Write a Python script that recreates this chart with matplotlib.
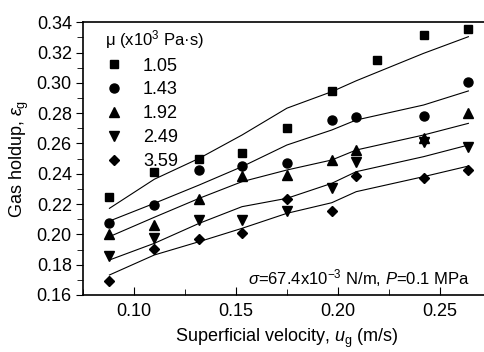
import matplotlib.pyplot as plt
from matplotlib.ticker import MultipleLocator

plt.rcParams['font.family'] = 'Liberation Sans'
plt.rcParams['mathtext.fontset'] = 'custom'
plt.rcParams['mathtext.rm'] = 'Liberation Sans'
plt.rcParams['mathtext.it'] = 'Liberation Sans:italic'

# measured points
x_sq = [0.088, 0.110, 0.132, 0.153, 0.175, 0.197, 0.219, 0.242, 0.264]
y_sq = [0.2245, 0.2414, 0.2496, 0.2540, 0.2705, 0.2945, 0.3154, 0.3314, 0.3353]
x_ci = [0.088, 0.110, 0.132, 0.153, 0.175, 0.197, 0.209, 0.242, 0.264]
y_ci = [0.2077, 0.2194, 0.2425, 0.2453, 0.2473, 0.2755, 0.2773, 0.2782, 0.3006]
x_tu = [0.088, 0.110, 0.132, 0.153, 0.175, 0.197, 0.209, 0.242, 0.264]
y_tu = [0.2003, 0.2062, 0.2234, 0.2386, 0.2392, 0.2489, 0.2556, 0.2636, 0.2799]
x_td = [0.088, 0.110, 0.132, 0.153, 0.175, 0.197, 0.209, 0.242, 0.264]
y_td = [0.1859, 0.1974, 0.2095, 0.2095, 0.2156, 0.2304, 0.2479, 0.2607, 0.2579]
x_di = [0.088, 0.110, 0.132, 0.153, 0.175, 0.197, 0.209, 0.242, 0.264]
y_di = [0.1694, 0.1902, 0.1970, 0.2007, 0.2234, 0.2154, 0.2387, 0.2373, 0.2425]

# model curves
x_fit = [0.088, 0.110, 0.132, 0.153, 0.175, 0.197, 0.209, 0.242, 0.264]
fit_sq = [0.2172, 0.2364, 0.2502, 0.2656, 0.2833, 0.2942, 0.3014, 0.3195, 0.3305]
fit_ci = [0.2088, 0.2205, 0.2326, 0.2447, 0.2590, 0.2689, 0.2755, 0.2854, 0.2947]
fit_tu = [0.1985, 0.2113, 0.2238, 0.2348, 0.2425, 0.2491, 0.2557, 0.2656, 0.2733]
fit_td = [0.1831, 0.1941, 0.2073, 0.2183, 0.2238, 0.2337, 0.2414, 0.2513, 0.2590]
fit_di = [0.1732, 0.1864, 0.1952, 0.2040, 0.2139, 0.2209, 0.2282, 0.2381, 0.2451]

labels = ['1.05', '1.43', '1.92', '2.49', '3.59']

fig = plt.figure(figsize=(4.85, 3.52), dpi=100)
ax = fig.add_axes([0.171, 0.162, 0.841, 0.7746])

series = [(x_sq, y_sq, 's', 6), (x_ci, y_ci, 'o', 6.5), (x_tu, y_tu, '^', 7),
          (x_td, y_td, 'v', 7), (x_di, y_di, 'D', 5.5)]
for (xs, ys, m, ms), lab in zip(series, labels):
    ax.plot(xs, ys, m, color='black', ms=ms, label=lab, ls='none')
for f in [fit_sq, fit_ci, fit_tu, fit_td, fit_di]:
    ax.plot(x_fit, f, '-', color='black', lw=0.8)

ax.set_xlim(0.075, 0.275)
ax.set_ylim(0.16, 0.34)
ax.xaxis.set_major_locator(MultipleLocator(0.05))
ax.xaxis.set_minor_locator(MultipleLocator(0.025))
ax.yaxis.set_major_locator(MultipleLocator(0.02))
ax.yaxis.set_minor_locator(MultipleLocator(0.01))
ax.xaxis.set_major_formatter(plt.FormatStrFormatter('%.2f'))
ax.yaxis.set_major_formatter(plt.FormatStrFormatter('%.2f'))
ax.tick_params(axis='x', which='both', direction='in', labelsize=13, pad=6)
ax.tick_params(axis='x', which='major', length=6)
ax.tick_params(axis='x', which='minor', length=4)
ax.tick_params(axis='y', which='both', direction='out', labelsize=13, pad=3)
ax.tick_params(axis='y', which='major', length=5)
ax.tick_params(axis='y', which='minor', length=4)
for s in ax.spines.values():
    s.set_linewidth(1.2)

ax.set_xlabel(r'Superficial velocity, $u_{\rm g}$ (m/s)', fontsize=13, labelpad=5)
ax.set_ylabel(r'Gas holdup, $\varepsilon_{\rm g}$', fontsize=13, labelpad=4)

ax.text(0.2647, 0.1712, r'$\sigma$=67.4x10$^{-3}$ N/m, $P$=0.1 MPa',
        ha='right', va='center', fontsize=12)

leg = ax.legend(title='\u03bc (x10$^3$ Pa\u00b7s)', loc='upper left', frameon=False,
                fontsize=13, title_fontsize=12, alignment='left',
                bbox_to_anchor=(0.054, 0.98), handletextpad=1.1, labelspacing=0.38,
                borderpad=0.0, borderaxespad=0.0, handlelength=1.0)

plt.savefig('out.png', dpi=100)
